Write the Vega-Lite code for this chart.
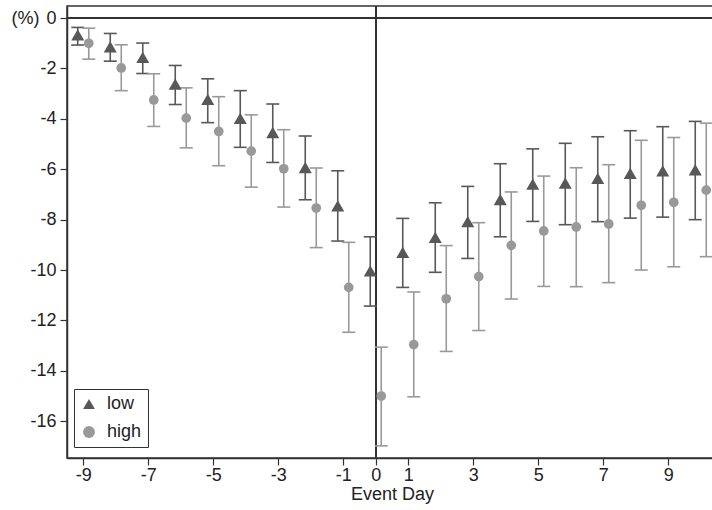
{
  "$schema": "https://vega.github.io/schema/vega-lite/v6.json",
  "width": 650,
  "height": 452,
  "autosize": {"type": "none"},
  "padding": {"left": 67, "top": 6, "right": 0, "bottom": 52},
  "background": "white",
  "config": {
    "font": "Liberation Sans",
    "view": {"stroke": "#333333", "strokeWidth": 1.5},
    "axis": {"labelFont": "Liberation Sans", "titleFont": "Liberation Sans", "labelFontSize": 18, "titleFontSize": 18, "labelColor": "#222", "titleColor": "#222", "titleFontWeight": "normal", "domainColor": "#333", "tickColor": "#333", "domainWidth": 1.5, "tickWidth": 1.2, "tickSize": 7, "grid": false, "labelExpr": "datum.value + ''"}
  },
  "data": {"values": [
    {"day": -9, "group": "low", "est": -0.67, "lo": -1.07, "hi": -0.37},
    {"day": -9, "group": "high", "est": -1.0, "lo": -1.63, "hi": -0.4},
    {"day": -8, "group": "low", "est": -1.14, "lo": -1.71, "hi": -0.61},
    {"day": -8, "group": "high", "est": -1.98, "lo": -2.88, "hi": -1.06},
    {"day": -7, "group": "low", "est": -1.56, "lo": -2.2, "hi": -0.99},
    {"day": -7, "group": "high", "est": -3.25, "lo": -4.3, "hi": -2.21},
    {"day": -6, "group": "low", "est": -2.62, "lo": -3.43, "hi": -1.88},
    {"day": -6, "group": "high", "est": -3.97, "lo": -5.15, "hi": -2.77},
    {"day": -5, "group": "low", "est": -3.23, "lo": -4.15, "hi": -2.41},
    {"day": -5, "group": "high", "est": -4.5, "lo": -5.86, "hi": -3.12},
    {"day": -4, "group": "low", "est": -3.98, "lo": -5.13, "hi": -2.88},
    {"day": -4, "group": "high", "est": -5.28, "lo": -6.71, "hi": -3.84},
    {"day": -3, "group": "low", "est": -4.54, "lo": -5.73, "hi": -3.41},
    {"day": -3, "group": "high", "est": -5.98, "lo": -7.5, "hi": -4.43},
    {"day": -2, "group": "low", "est": -5.93, "lo": -7.21, "hi": -4.68},
    {"day": -2, "group": "high", "est": -7.54, "lo": -9.11, "hi": -5.95},
    {"day": -1, "group": "low", "est": -7.45, "lo": -8.85, "hi": -6.06},
    {"day": -1, "group": "high", "est": -10.69, "lo": -12.47, "hi": -8.9},
    {"day": 0, "group": "low", "est": -10.03, "lo": -11.43, "hi": -8.68},
    {"day": 0, "group": "high", "est": -15.0, "lo": -16.98, "hi": -13.06},
    {"day": 1, "group": "low", "est": -9.3, "lo": -10.69, "hi": -7.95},
    {"day": 1, "group": "high", "est": -12.96, "lo": -15.03, "hi": -10.87},
    {"day": 2, "group": "low", "est": -8.7, "lo": -10.09, "hi": -7.33},
    {"day": 2, "group": "high", "est": -11.14, "lo": -13.23, "hi": -9.03},
    {"day": 3, "group": "low", "est": -8.08, "lo": -9.54, "hi": -6.68},
    {"day": 3, "group": "high", "est": -10.26, "lo": -12.4, "hi": -8.12},
    {"day": 4, "group": "low", "est": -7.2, "lo": -8.68, "hi": -5.78},
    {"day": 4, "group": "high", "est": -9.02, "lo": -11.15, "hi": -6.9},
    {"day": 5, "group": "low", "est": -6.59, "lo": -8.07, "hi": -5.19},
    {"day": 5, "group": "high", "est": -8.45, "lo": -10.65, "hi": -6.27},
    {"day": 6, "group": "low", "est": -6.55, "lo": -8.2, "hi": -4.97},
    {"day": 6, "group": "high", "est": -8.29, "lo": -10.66, "hi": -5.94},
    {"day": 7, "group": "low", "est": -6.36, "lo": -8.08, "hi": -4.71},
    {"day": 7, "group": "high", "est": -8.17, "lo": -10.5, "hi": -5.82},
    {"day": 8, "group": "low", "est": -6.16, "lo": -7.94, "hi": -4.47},
    {"day": 8, "group": "high", "est": -7.43, "lo": -10.0, "hi": -4.85},
    {"day": 9, "group": "low", "est": -6.06, "lo": -7.9, "hi": -4.31},
    {"day": 9, "group": "high", "est": -7.31, "lo": -9.87, "hi": -4.74},
    {"day": 10, "group": "low", "est": -6.02, "lo": -8.0, "hi": -4.1},
    {"day": 10, "group": "high", "est": -6.83, "lo": -9.47, "hi": -4.17}
  ]},
  "encoding": {
    "x": {"field": "day", "type": "quantitative", "scale": {"domain": [-9.5, 10.5], "nice": false, "zero": false},
      "axis": {"values": [-9, -7, -5, -3, -1, 0, 1, 3, 5, 7, 9], "title": "Event Day", "labelPadding": 1, "titlePadding": 1}},
    "color": {"field": "group", "type": "nominal", "scale": {"domain": ["low", "high"], "range": ["#585858", "#999999"]}, "title": null,
      "legend": {"orient": "none", "legendX": 7, "legendY": 383, "strokeColor": "#333", "fillColor": "white", "padding": 6, "labelFont": "Liberation Sans", "labelFontSize": 18, "labelColor": "#222", "symbolSize": 140, "rowPadding": 10, "labelOffset": 9, "symbolStrokeWidth": 0, "offset": 0}}
  },
  "layer": [
    {"mark": {"type": "rule", "color": "#333", "strokeWidth": 1.5}, "encoding": {"y": {"datum": 0, "type": "quantitative"}, "x": null, "color": null}},
    {"mark": {"type": "rule", "color": "#333", "strokeWidth": 1.5}, "encoding": {"x": {"datum": 0, "type": "quantitative"}, "color": null}},
    {"mark": {"type": "rule", "strokeWidth": 1.6, "xOffset": {"expr": "datum.group == 'low' ? -5.5 : 5.5"}},
      "encoding": {
        "y": {"field": "lo", "type": "quantitative", "scale": {"domain": [-17.46, 0.48], "nice": false, "zero": false},
          "axis": {"values": [0, -2, -4, -6, -8, -10, -12, -14, -16], "title": "(%)", "titleAngle": 0, "titleAlign": "left", "titleBaseline": "middle", "titleX": -56, "titleY": 12, "labelPadding": 4}},
        "y2": {"field": "hi"}
      }},
    {"mark": {"type": "tick", "orient": "horizontal", "size": 13, "thickness": 1.6, "opacity": 1, "xOffset": {"expr": "datum.group == 'low' ? -5.5 : 5.5"}}, "encoding": {"y": {"field": "lo", "type": "quantitative"}}},
    {"mark": {"type": "tick", "orient": "horizontal", "size": 13, "thickness": 1.6, "opacity": 1, "xOffset": {"expr": "datum.group == 'low' ? -5.5 : 5.5"}}, "encoding": {"y": {"field": "hi", "type": "quantitative"}}},
    {"mark": {"type": "point", "filled": true, "opacity": 1, "size": {"expr": "datum.group == 'low' ? 170 : 95"}, "xOffset": {"expr": "datum.group == 'low' ? -5.5 : 5.5"}},
      "encoding": {
        "y": {"field": "est", "type": "quantitative"},
        "shape": {"field": "group", "type": "nominal", "scale": {"domain": ["low", "high"], "range": ["triangle-up", "circle"]}, "title": null}
      }}
  ]
}
